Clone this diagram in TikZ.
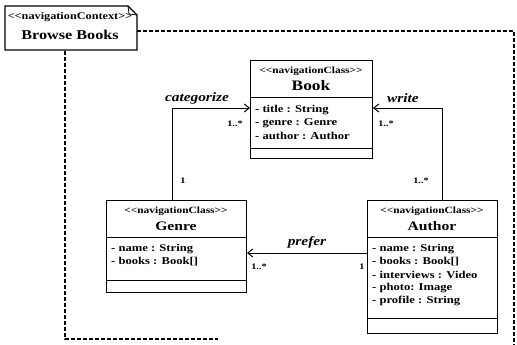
\documentclass[tikz,border=0pt]{standalone}
\usepackage{fontspec}
\setmainfont[FakeStretch=1.2]{Liberation Serif}
\usetikzlibrary{arrows.meta}
% guillemet-free stereotype brackets
\newcommand{\stl}{{<}{<}}
\newcommand{\str}{{>}{>}}
\begin{document}
\begin{tikzpicture}[x=1pt,y=-1pt,
  box/.style={draw,line width=1pt,rectangle,inner sep=0pt,anchor=north west},
  sepline/.style={line width=0.8pt},
  stereo/.style={font=\bfseries\fontsize{9.5}{10}\selectfont,inner sep=0pt},
  cname/.style={font=\bfseries\fontsize{13}{14}\selectfont,inner sep=0pt},
  attr/.style={font=\bfseries\fontsize{10.5}{11}\selectfont,inner sep=0pt,anchor=west},
  mult/.style={font=\bfseries\fontsize{8.5}{9}\selectfont,inner sep=0pt},
  rolelab/.style={font=\bfseries\itshape\fontsize{12.8}{13}\selectfont,inner sep=0pt},
  assoc/.style={line width=1pt,-{Straight Barb[length=5pt,width=8pt,line width=1pt]}},
  frame/.style={dashed,dash pattern=on 4pt off 2pt,line width=1.2pt}]
\useasboundingbox (0,0) rectangle (517,345);

% navigation context frame
\draw[frame] (137,31) -- (514,31) -- (514,345);
\draw[frame] (65,51) -- (65,339) -- (218,339);

% context note with folded corner
\draw[line width=1.3pt,fill=white] (5,6) -- (128,6) -- (137,15) -- (137,50) -- (5,50) -- cycle;
\draw[line width=0.8pt] (128,6) -- (129,14) -- (137,15);
\node[stereo,font=\bfseries\fontsize{10.2}{11}\selectfont] (ctxs) at (70,17) {\stl navigationContext\str};
\node[font=\bfseries\fontsize{13.5}{14}\selectfont,inner sep=0pt] (ctxn) at (70,35) {Browse Books};

% class Book
\node[box,minimum width=122,minimum height=98] (book) at (250,60) {};
\draw[sepline] (250,97) -- (372,97);
\draw[sepline] (250,148) -- (372,148);
\node[stereo] (books) at (311,71) {\stl navigationClass\str};
\node[cname,font=\bfseries\fontsize{14.5}{15}\selectfont] (bookn) at (311,86) {Book};
\node[attr] (ba1) at (255,110) {- title : String};
\node[attr] (ba2) at (255,123) {- genre : Genre};
\node[attr] (ba3) at (255,136) {- author : Author};

% class Genre
\node[box,minimum width=140,minimum height=92] (genre) at (106,200) {};
\draw[sepline] (106,237) -- (246,237);
\draw[sepline] (106,280) -- (246,280);
\node[stereo] (genres) at (176,211) {\stl navigationClass\str};
\node[cname] (genren) at (176,226) {Genre};
\node[attr] (ga1) at (111,249) {- name : String};
\node[attr] (ga2) at (111,262) {- books : Book[]};

% class Author
\node[box,minimum width=130,minimum height=133] (author) at (367,200) {};
\draw[sepline] (367,237) -- (497,237);
\draw[sepline] (367,318) -- (497,318);
\node[stereo] (authors) at (432,211) {\stl navigationClass\str};
\node[cname] (authorn) at (432,226) {Author};
\node[attr] (aa1) at (372,249) {- name : String};
\node[attr] (aa2) at (372,262) {- books : Book[]};
\node[attr] (aa3) at (372,275) {- interviews : Video};
\node[attr] (aa4) at (372,288) {- photo: Image};
\node[attr] (aa5) at (372,301) {- profile : String};

% association bends
\coordinate (catbend) at (172,108);
\coordinate (wribend) at (442,108);
\coordinate (prefy) at (0,253);

% associations
\draw[assoc] (genre.north -| catbend) |- (book.west |- catbend);
\draw[assoc] (author.north -| wribend) |- (book.east |- wribend);
\draw[assoc] (author.west |- prefy) -- (genre.east |- prefy);

% role names and multiplicities
\node[rolelab] (lcat) at (197,98) {categorize};
\node[rolelab] (lwri) at (403,98) {write};
\node[rolelab] (lpre) at (307,242) {prefer};
\node[mult] (m1) at (235,124) {1..*};
\node[mult] (m2) at (183,181) {1};
\node[mult] (m3) at (386,124) {1..*};
\node[mult] (m4) at (421,181) {1..*};
\node[mult] (m5) at (259,267) {1..*};
\node[mult] (m6) at (362,267) {1};
\end{tikzpicture}
\end{document}
